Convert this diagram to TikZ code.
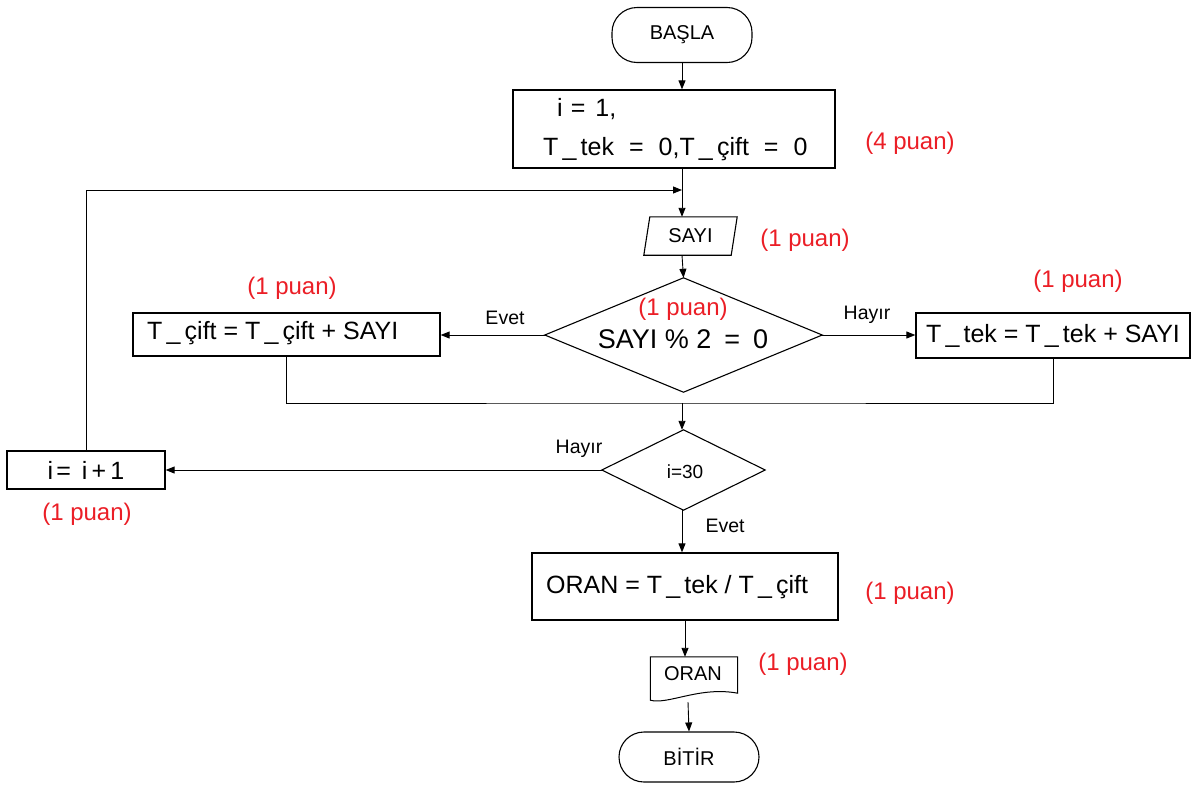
\documentclass[tikz,border=0pt]{standalone}
\usepackage{fontspec}
\setmainfont{Liberation Sans}
\usetikzlibrary{arrows.meta}
\definecolor{puan}{RGB}{235,30,38}
\begin{document}
\begin{tikzpicture}[x=1pt,y=-1pt,
  box/.style={draw, line width=1.3pt, inner sep=0pt},
  term/.style={draw, line width=1.1pt, inner sep=0pt, rounded corners=25pt},
  con/.style={-{Triangle[length=9pt,width=7pt]}, line width=0.9pt},
  ln/.style={line width=0.9pt},
  lbl/.style={font=\fontsize{19.5}{23}\selectfont, inner sep=0pt},
  pts/.style={text=puan, font=\fontsize{24}{28}\selectfont, inner sep=0pt},
  big/.style={font=\fontsize{25}{30}\selectfont, inner sep=0pt},
  mid/.style={font=\fontsize{20}{24}\selectfont, inner sep=0pt}]
\useasboundingbox (0,0) rectangle (1193,785);

% nodes
\node[term, minimum width=140pt, minimum height=55pt, mid] (start) at (682,35) {BAŞLA};
\node[box, minimum width=322pt, minimum height=78pt] (init) at (674,129) {};
\node[big, anchor=base west] (init1) at (557,116) {i\hspace{8pt}=\hspace{10pt}1,};
\node[big, anchor=base west] (init2) at (543,155) {T\,\_\,tek\hspace{15pt}=\hspace{15pt}0,T\,\_\,çift\hspace{15pt}=\hspace{15pt}0};
\node[pts] (p1) at (910,143) {(4 puan)};

\node[minimum width=87pt, minimum height=38pt, inner sep=0pt, mid] (sayi) at (690.5,236) {SAYI};
\node[pts] (p2) at (805,240) {(1 puan)};

\node[minimum width=277pt, minimum height=114pt, inner sep=0pt] (d1) at (683.5,335) {};
\draw[line width=1.1pt] (d1.north) -- (d1.east) -- (d1.south) -- (d1.west) -- cycle;
\node[font=\fontsize{27}{32}\selectfont, inner sep=0pt] (d1t) at (683,339) {SAYI \% 2\hspace{13pt}=\hspace{13pt}0};
\node[pts] (p3) at (683,309) {(1 puan)};

\node[box, minimum width=307pt, minimum height=43pt] (lbox) at (286.5,334.5) {};
\node[big, anchor=west] (lboxt) at (147,333) {T\,\_\,çift = T\,\_\,çift + SAYI};
\node[pts] (p4) at (292,288) {(1 puan)};
\node[box, minimum width=274pt, minimum height=45pt, big] (rbox) at (1053,335.5) {T\,\_\,tek = T\,\_\,tek + SAYI};
\node[pts] (p5) at (1078,281) {(1 puan)};

\node[lbl] (evet1) at (505,318) {Evet};
\node[lbl] (hayir1) at (867,315) {Hayır};

\node[minimum width=163pt, minimum height=80pt, inner sep=0pt] (d2) at (683.5,470) {};
\draw[line width=1.1pt] (d2.north) -- (d2.east) -- (d2.south) -- (d2.west) -- cycle;
\node[font=\fontsize{19}{22}\selectfont, inner sep=0pt] (d2t) at (685,472) {i=30};
\node[lbl] (hayir2) at (579,449) {Hayır};
\node[lbl] (evet2) at (725,526) {Evet};

\node[box, minimum width=158pt, minimum height=38pt, big] (ibox) at (86,470) {i\hspace{3pt}=\hspace{11pt}i\,+\,1};
\node[pts] (p6) at (87,514) {(1 puan)};

\node[box, minimum width=306pt, minimum height=67pt] (oran) at (685,586.5) {};
\node[big, anchor=base west] (orant) at (546,593) {ORAN = T\,\_\,tek / T\,\_\,çift};
\node[pts] (p7) at (910,593) {(1 puan)};

\node[minimum width=87pt, minimum height=44pt, inner sep=0pt] (doc) at (694,679) {};
\node[mid] (doct) at (693,674) {ORAN};
\draw[line width=1pt] ([yshift=8pt]doc.south east) -- (doc.north east) -- (doc.north west) -- ([yshift=1pt]doc.south west)
  .. controls (668,705) and (700,686) .. ([yshift=8pt]doc.south east) -- cycle;
\node[pts] (p8) at (803,664) {(1 puan)};

\node[term, minimum width=140pt, minimum height=50pt, mid] (stop) at (689,757) {BİTİR};

% parallelogram for SAYI
\draw[line width=1.1pt] ([xshift=-3pt]sayi.south west) -- ([xshift=3pt]sayi.north west)
  -- ([xshift=3pt]sayi.north east) -- ([xshift=-3pt]sayi.south east) -- cycle;

% connectors
\coordinate (j1) at (682,190);
\coordinate (j2) at (682,403);
\draw[con] (start.south) -- (start.south |- init.north);
\draw[con] (start.south |- init.south) -- (start.south |- sayi.north);
\draw[con] (ibox.north) |- (j1);
\draw[con] (start.south |- sayi.south) -- (d1.north);
\draw[con] (d1.west) -- (d1.west -| lbox.east);
\draw[con] (d1.east) -- (d1.east -| rbox.west);
\draw[ln] (lbox.south) |- (j2) -| (rbox.south);
\draw[con] (j2) -- (j2 |- d2.north);
\draw[con] (d2.west) -- (ibox.east);
\draw[con] (j2 |- d2.south) -- (j2 |- oran.north);
\draw[con] (oran.south) -- (oran.south |- doc.north);
\draw[con] (688,702) -- (stop.north);
\end{tikzpicture}
\end{document}
